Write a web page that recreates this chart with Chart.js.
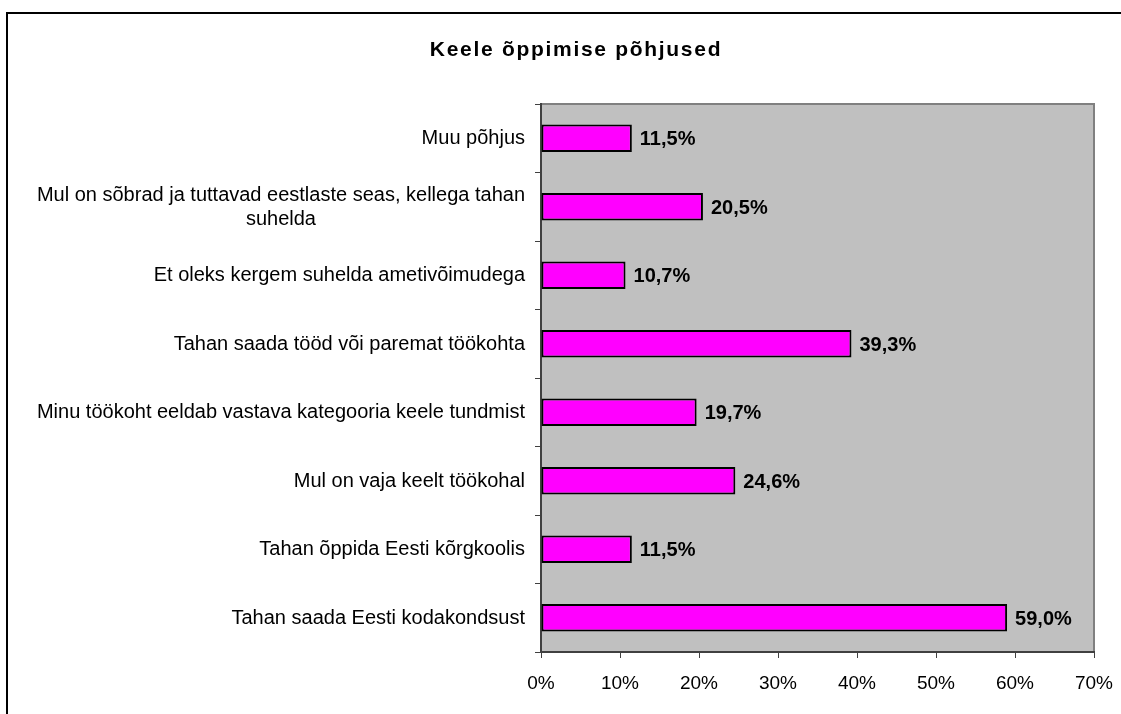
<!DOCTYPE html>
<html>
<head>
<meta charset="utf-8">
<script src="https://cdn.jsdelivr.net/npm/chart.js@4.4.1/dist/chart.umd.min.js"></script>
<style>
html,body{margin:0;padding:0;background:#fff;}
canvas{display:block;}
</style>
</head>
<body>
<canvas id="c" width="1121" height="714"></canvas>
<script>
const chartTitle = 'Keele õppimise põhjused';
const categories = [
  'Muu põhjus',
  ['Mul on sõbrad ja tuttavad eestlaste seas, kellega tahan', 'suhelda'],
  'Et oleks kergem suhelda ametivõimudega',
  'Tahan saada tööd või paremat töökohta',
  'Minu töökoht eeldab vastava kategooria keele tundmist',
  'Mul on vaja keelt töökohal',
  'Tahan õppida Eesti kõrgkoolis',
  'Tahan saada Eesti kodakondsust'
];
const values = [11.5, 20.5, 10.7, 39.3, 19.7, 24.6, 11.5, 59.0];
const xTickValues = [0, 10, 20, 30, 40, 50, 60, 70];

const FONT = '"Liberation Sans", Arial, sans-serif';

const decorPlugin = {
  id: 'decor',
  beforeDraw(chart) {
    const ctx = chart.ctx;
    const a = chart.chartArea;
    ctx.save();
    ctx.fillStyle = '#fff';
    ctx.fillRect(0, 0, chart.width, chart.height);
    // outer frame
    ctx.strokeStyle = '#000';
    ctx.lineWidth = 2;
    ctx.strokeRect(7, 13, 1300, 900);
    // plot background
    ctx.fillStyle = '#C0C0C0';
    ctx.fillRect(a.left, a.top, a.right - a.left, a.bottom - a.top);
    // plot border (top/right)
    ctx.strokeStyle = '#808080';
    ctx.lineWidth = 2;
    ctx.beginPath();
    ctx.moveTo(a.left, a.top);
    ctx.lineTo(a.right, a.top);
    ctx.lineTo(a.right, a.bottom);
    ctx.stroke();
    // title
    ctx.fillStyle = '#000';
    ctx.font = 'bold 21px ' + FONT;
    if ('letterSpacing' in ctx) ctx.letterSpacing = '1.7px';
    ctx.textAlign = 'center';
    ctx.textBaseline = 'alphabetic';
    ctx.fillText(chartTitle, 576, 56);
    ctx.restore();
  },
  afterDraw(chart) {
    const ctx = chart.ctx;
    const yScale = chart.scales.y;
    ctx.save();
    ctx.fillStyle = '#000';
    ctx.font = '20px ' + FONT;
    ctx.textBaseline = 'alphabetic';
    chart.data.labels.forEach((lab, i) => {
      const lines = Array.isArray(lab) ? lab : [lab];
      const cy = yScale.getPixelForValue(i);
      const lh = 24;
      let maxW = 0;
      lines.forEach(l => { maxW = Math.max(maxW, ctx.measureText(l).width); });
      const right = 525;
      const cx = right - maxW / 2;
      ctx.textAlign = 'center';
      lines.forEach((l, k) => {
        const ly = cy - (lines.length - 1) * lh / 2 + k * lh;
        ctx.fillText(l, cx, ly + 6);
      });
    });
    // data labels
    const meta = chart.getDatasetMeta(0);
    ctx.font = 'bold 20px ' + FONT;
    ctx.textAlign = 'left';
    meta.data.forEach((bar, i) => {
      const v = chart.data.datasets[0].data[i];
      const txt = v.toFixed(1).replace('.', ',') + '%';
      ctx.fillText(txt, bar.x + 8, bar.y + 7);
    });
    ctx.restore();
  }
};

new Chart(document.getElementById('c'), {
  type: 'bar',
  data: {
    labels: categories,
    datasets: [{
      data: values,
      backgroundColor: '#FF00FF',
      borderColor: '#000000',
      borderWidth: 2,
      borderSkipped: false,
      barPercentage: 0.4,
      categoryPercentage: 1.0
    }]
  },
  options: {
    indexAxis: 'y',
    responsive: false,
    animation: false,
    devicePixelRatio: 1,
    layout: { padding: { top: 104, right: 27, bottom: 0, left: 0 } },
    plugins: {
      legend: { display: false },
      title: { display: false },
      tooltip: { enabled: false }
    },
    scales: {
      x: {
        min: 0,
        max: 70,
        afterBuildTicks(scale) { scale.ticks = xTickValues.map(v => ({ value: v })); },
        afterFit(scale) { scale.height = 62; scale.paddingLeft = 0; scale.paddingRight = 0; },
        ticks: {
          callback: v => v + '%',
          color: '#000',
          font: { family: FONT, size: 19 },
          padding: 14,
          maxRotation: 0
        },
        grid: { drawOnChartArea: false, drawTicks: true, tickLength: 6, color: '#404040', lineWidth: 1 },
        border: { display: true, color: '#404040', width: 2 }
      },
      y: {
        afterFit(scale) { scale.width = 541; scale.paddingTop = 0; scale.paddingBottom = 0; },
        ticks: { display: false },
        grid: { drawOnChartArea: false, drawTicks: true, tickLength: 6, color: '#404040', lineWidth: 1, offset: true },
        border: { display: true, color: '#404040', width: 2 }
      }
    }
  },
  plugins: [decorPlugin]
});
</script>
</body>
</html>
